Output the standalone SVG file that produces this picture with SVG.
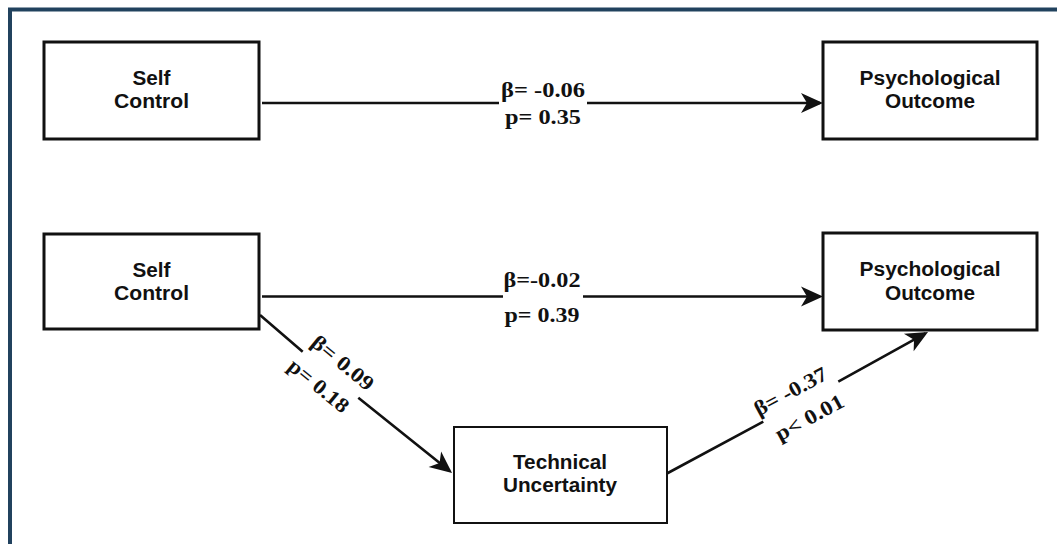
<svg xmlns="http://www.w3.org/2000/svg" width="1057" height="544" viewBox="0 0 1057 544">
<defs>
<style>
.box{fill:#fff;stroke:#111;stroke-width:3}
.box2{fill:#fff;stroke:#111;stroke-width:2}
.nt{font-family:"Liberation Sans",Arial,sans-serif;font-weight:bold;font-size:20px;fill:#111;text-anchor:middle}
.lb{font-family:"Liberation Serif","Times New Roman",serif;font-weight:bold;font-size:21px;fill:#111;text-anchor:middle}
.edge{fill:none;stroke:#111;stroke-width:2.6;marker-end:url(#arr)}
</style>
<marker id="arr" markerUnits="userSpaceOnUse" viewBox="-22 -11 28 22" refX="0" refY="0" markerWidth="28" markerHeight="22" orient="auto">
<path d="M3,0 L-19,-10 L-13,0 L-19,10 Z" fill="#111"/>
</marker>
</defs>
<rect width="1057" height="544" fill="#fff"/>
<path d="M10,544 L10,9.5 L1057,9.5" fill="none" stroke="#21425e" stroke-width="4"/>

<g id="connectors">
<path class="edge" d="M262,103 L499,103 M587,103 L820,103"/>
<path class="edge" d="M262,296.5 L503,296.5 M583,296.5 L820,296.5"/>
<path class="edge" d="M260,315 L302.7,351.7 M358.3,397.7 L449.7,471.1"/>
<path class="edge" d="M666,474 L763.3,421.7 M838.3,381.7 L925.4,333.4"/>
<g id="label-sc-po-1">
<text class="lb" x="543" y="97" textLength="84" lengthAdjust="spacingAndGlyphs">β= -0.06</text>
<text class="lb" x="543" y="124" textLength="76" lengthAdjust="spacingAndGlyphs">p= 0.35</text>
</g>
<g id="label-sc-po-2">
<text class="lb" x="542" y="287" textLength="77" lengthAdjust="spacingAndGlyphs">β=-0.02</text>
<text class="lb" x="542" y="322" textLength="75" lengthAdjust="spacingAndGlyphs">p= 0.39</text>
</g>
<g id="label-sc-tu" transform="translate(330.5,374.7) rotate(39.45)">
<text class="lb" x="2" y="-10" textLength="74" lengthAdjust="spacingAndGlyphs">β= 0.09</text>
<text class="lb" x="-2" y="23" textLength="72" lengthAdjust="spacingAndGlyphs">p= 0.18</text>
</g>
<g id="label-tu-po" transform="translate(800.8,401.7) rotate(-28.46)">
<text class="lb" x="-4" y="-7" textLength="80" lengthAdjust="spacingAndGlyphs">β= -0.37</text>
<text class="lb" x="0" y="25" textLength="75" lengthAdjust="spacingAndGlyphs">p&lt; 0.01</text>
</g>
</g>

<g id="self-control-1">
<rect class="box" x="44" y="42" width="215" height="97"/>
<text class="nt" x="151.5" y="85" textLength="38" lengthAdjust="spacingAndGlyphs">Self</text>
<text class="nt" x="151.5" y="108" textLength="75" lengthAdjust="spacingAndGlyphs">Control</text>
</g>
<g id="psych-outcome-1">
<rect class="box" x="823" y="42" width="214" height="97"/>
<text class="nt" x="930" y="85" textLength="141" lengthAdjust="spacingAndGlyphs">Psychological</text>
<text class="nt" x="930" y="108" textLength="90" lengthAdjust="spacingAndGlyphs">Outcome</text>
</g>
<g id="self-control-2">
<rect class="box" x="44" y="234" width="215" height="95"/>
<text class="nt" x="151.5" y="277" textLength="38" lengthAdjust="spacingAndGlyphs">Self</text>
<text class="nt" x="151.5" y="300" textLength="75" lengthAdjust="spacingAndGlyphs">Control</text>
</g>
<g id="psych-outcome-2">
<rect class="box" x="823" y="233" width="214" height="97"/>
<text class="nt" x="930" y="276" textLength="141" lengthAdjust="spacingAndGlyphs">Psychological</text>
<text class="nt" x="930" y="300" textLength="90" lengthAdjust="spacingAndGlyphs">Outcome</text>
</g>
<g id="technical-uncertainty">
<rect class="box2" x="454" y="427" width="213" height="96"/>
<text class="nt" x="560" y="469" textLength="94" lengthAdjust="spacingAndGlyphs">Technical</text>
<text class="nt" x="560" y="492" textLength="114" lengthAdjust="spacingAndGlyphs">Uncertainty</text>
</g>
</svg>
